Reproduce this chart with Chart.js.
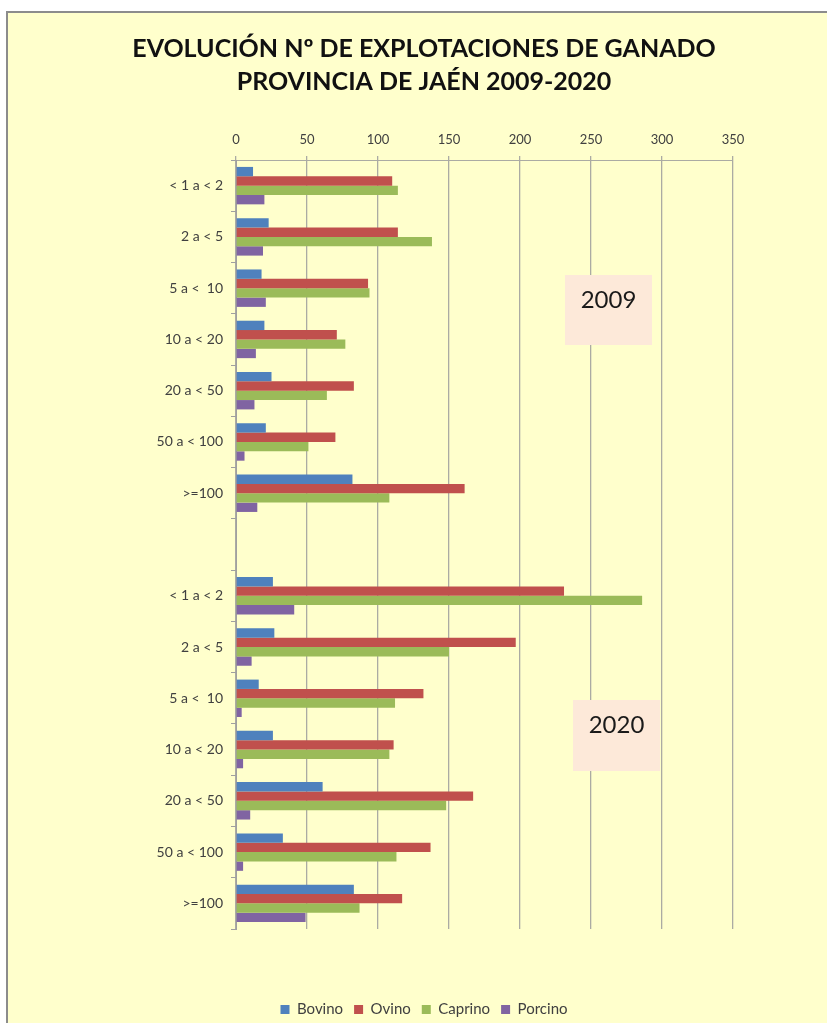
<!DOCTYPE html>
<html>
<head>
<meta charset="utf-8">
<script src="https://cdn.jsdelivr.net/npm/chart.js@4"></script>
<style>
  html, body { margin: 0; padding: 0; background: #ffffff; }
  #wrap { width: 827px; height: 1023px; }
</style>
</head>
<body>
<div id="wrap"><canvas id="ganado" width="827" height="1023"></canvas></div>
<script>
// tamaños de explotación (mismas clases para 2009 y 2020)
var tramos = ["< 1 a < 2", "2 a < 5", "5 a <  10", "10 a < 20", "20 a < 50", "50 a < 100", ">=100"];

var bovino2009  = [12, 23, 18, 20, 25, 21, 82];
var ovino2009   = [110, 114, 93, 71, 83, 70, 161];
var caprino2009 = [114, 138, 94, 77, 64, 51, 108];
var porcino2009 = [20, 19, 21, 14, 13, 6, 15];

var bovino2020  = [26, 27, 16, 26, 61, 33, 83];
var ovino2020   = [231, 197, 132, 111, 167, 137, 117];
var caprino2020 = [286, 150, 112, 108, 148, 113, 87];
var porcino2020 = [41, 11, 4, 5, 10, 5, 49];

var xTicks = [0, 50, 100, 150, 200, 250, 300, 350];

// una fila vacia separa los dos años
function juntar(a, b) { return a.concat([null], b); }
var labels = tramos.concat([""], tramos);

var marco = {
  id: 'marco',
  beforeDraw: function(chart) {
    var c = chart.ctx;
    c.save();
    c.fillStyle = '#ffffff';
    c.fillRect(0, 0, chart.width, chart.height);
    c.fillStyle = '#FFFFCC';
    c.fillRect(7, 12, chart.width, chart.height);
    c.strokeStyle = '#8c8c8c';
    c.lineWidth = 2;
    c.beginPath();
    c.moveTo(7, chart.height);
    c.lineTo(7, 12);
    c.lineTo(chart.width, 12);
    c.stroke();
    c.restore();
  }
};

var etiquetas = {
  id: 'etiquetas',
  afterDatasetsDraw: function(chart) {
    var c = chart.ctx;
    c.save();
    [["2009", 565, 275, 87, 70, 300], ["2020", 573, 700, 87, 71, 725]].forEach(function(e) {
      c.fillStyle = '#FDE9D9';
      c.fillRect(e[1], e[2], e[3], e[4]);
      c.fillStyle = '#1a1a1a';
      c.font = '24px Lato';
      c.textAlign = 'center';
      c.textBaseline = 'middle';
      c.fillText(e[0], e[1] + e[3] / 2, e[5]);
    });
    c.restore();
  }
};

var ctx = document.getElementById("ganado").getContext("2d");
var myChart = new Chart(ctx, {
  type: 'bar',
  data: {
    labels: labels,
    datasets: [{
      label: "Bovino",
      backgroundColor: "#4F81BD",
      data: juntar(bovino2009, bovino2020)
    }, {
      label: "Ovino",
      backgroundColor: "#C0504D",
      data: juntar(ovino2009, ovino2020)
    }, {
      label: "Caprino",
      backgroundColor: "#9BBB59",
      data: juntar(caprino2009, caprino2020)
    }, {
      label: "Porcino",
      backgroundColor: "#8064A2",
      data: juntar(porcino2009, porcino2020)
    }]
  },
  plugins: [marco, etiquetas],
  options: {
    indexAxis: 'y',
    responsive: false,
    animation: false,
    barPercentage: 1,
    categoryPercentage: 0.73,
    layout: { padding: { left: 21, right: 0, top: 0, bottom: -4 } },
    scales: {
      x: {
        position: 'top',
        min: 0,
        max: 350,
        afterBuildTicks: function(s) { s.ticks = xTicks.map(function(v) { return { value: v }; }); },
        afterFit: function(s) { s.height = 50; },
        grid: { color: '#ABABA3', lineWidth: 1.3, tickLength: 4 },
        border: { display: true, color: '#ABABA3' },
        ticks: { color: '#404040', font: { family: 'Lato', size: 13 }, padding: 8 }
      },
      y: {
        afterFit: function(s) { s.width = 215; },
        grid: { drawOnChartArea: false, offset: true, tickLength: 5, color: '#A0A0A0' },
        border: { display: true, color: '#A0A0A0' },
        ticks: { color: '#404040', font: { family: 'Lato', size: 14 }, padding: 8, autoSkip: false }
      },
      yr: {
        type: 'linear',
        position: 'right',
        afterFit: function(s) { s.width = 94; },
        grid: { display: false },
        border: { display: false },
        ticks: { display: false }
      },
      xb: {
        type: 'linear',
        position: 'bottom',
        afterFit: function(s) { s.height = 62; },
        grid: { display: false },
        border: { display: false },
        ticks: { display: false }
      }
    },
    plugins: {
      title: {
        display: true,
        text: ["EVOLUCIÓN Nº DE EXPLOTACIONES DE GANADO", "PROVINCIA DE JAÉN 2009-2020"],
        color: '#111111',
        font: { family: 'Lato', size: 25, weight: 'bold', lineHeight: 1.3 },
        padding: { top: 33, bottom: 12 }
      },
      legend: {
        position: 'bottom',
        labels: {
          color: '#404040',
          font: { family: 'Lato', size: 15 },
          boxWidth: 9,
          boxHeight: 9,
          padding: 11
        }
      },
      tooltip: { enabled: false }
    }
  }
});
</script>
</body>
</html>
